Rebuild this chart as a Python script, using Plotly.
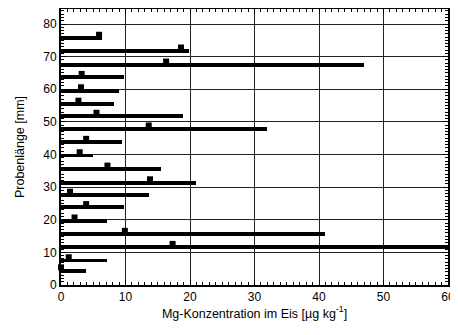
import plotly.graph_objects as go

# Probenlänge (mm) of each sample bar
depth_mm = [75.7, 71.8, 67.5, 63.7, 59.6, 55.5, 51.8, 47.9, 43.8, 39.7,
            35.6, 31.4, 27.6, 23.8, 19.7, 15.6, 11.6, 7.5, 4.4]
# bar length: Mg concentration (µg/kg)
bar_conc = [6.3, 19.9, 46.9, 9.8, 9.0, 8.2, 18.9, 31.9, 9.4, 5.0,
            15.5, 20.9, 13.6, 9.8, 7.1, 40.9, 60.0, 7.2, 3.9]
# square markers (Mg concentration)
marker_conc = [5.9, 18.6, 16.3, 3.2, 3.1, 2.7, 5.5, 13.6, 3.9, 2.9,
               7.2, 13.8, 1.4, 3.9, 2.1, 9.9, 17.3, 1.2, 0.0]
marker_offset_mm = 1.0

x_ticks = [0, 10, 20, 30, 40, 50, 60]
y_ticks = [0, 10, 20, 30, 40, 50, 60, 70, 80]

fig = go.Figure()
fig.add_trace(go.Bar(
    x=bar_conc, y=depth_mm, orientation="h", width=1.2,
    marker=dict(color="black", line=dict(width=0)),
    showlegend=False,
))
fig.add_trace(go.Scatter(
    x=marker_conc, y=[d + marker_offset_mm for d in depth_mm],
    mode="markers",
    marker=dict(symbol="square", size=6, color="black"),
    showlegend=False, cliponaxis=False,
))

font = "Liberation Sans, Arial, sans-serif"
fig.update_layout(
    width=450, height=327,
    margin=dict(l=53, r=10, t=1, b=50),
    paper_bgcolor="white", plot_bgcolor="white",
    font=dict(family=font, size=12, color="black"),
    bargap=0,
    xaxis=dict(
        range=[0, 60], tickvals=x_ticks, ticktext=[str(v) for v in x_ticks],
        automargin=False,
        showgrid=True, gridcolor="#222222", gridwidth=1,
        zeroline=False,
        showline=True, linecolor="black", linewidth=2, mirror="allticks",
        ticks="inside", ticklen=5, tickcolor="black", tickwidth=1,
        minor=dict(ticks="inside", dtick=1, ticklen=3, tickcolor="black", showgrid=False),
        tickfont=dict(size=12),
        title=dict(text="Mg-Konzentration im Eis [µg kg<sup>-1</sup>]", font=dict(size=12.5), standoff=5),
    ),
    yaxis=dict(
        range=[0, 84.6], tickvals=y_ticks, ticktext=[str(v) for v in y_ticks],
        automargin=False,
        showgrid=True, gridcolor="#222222", gridwidth=1,
        zeroline=False,
        showline=True, linecolor="black", linewidth=2, mirror="allticks",
        ticks="inside", ticklen=5, tickcolor="black", tickwidth=1,
        minor=dict(ticks="inside", dtick=1, ticklen=3, tickcolor="black", showgrid=False),
        tickfont=dict(size=12),
        title=dict(text="Probenlänge [mm]", font=dict(size=12.5), standoff=16),
    ),
)

fig.write_html("out.html")
